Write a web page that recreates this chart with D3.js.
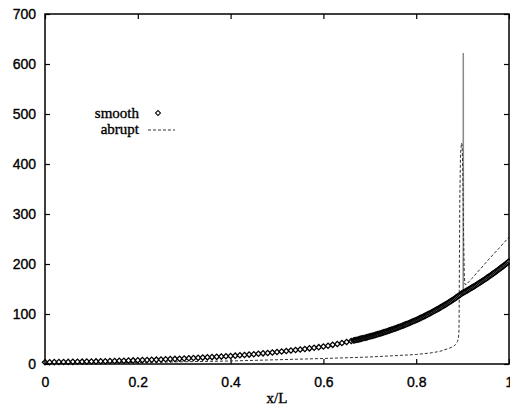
<!DOCTYPE html>
<html>
<head>
<meta charset="utf-8">
<script src="https://cdn.jsdelivr.net/npm/d3@7"></script>
<style>
    body { margin: 0; background: white; }
    svg { display: block; font-family: "Liberation Serif", "DejaVu Serif", serif; }
    text { fill: black; stroke: black; stroke-width: 0.35px; }
    .tick text { font-size: 14px; }
    .tick line { stroke: black; stroke-width: 1.2; }
</style>
</head>
<body>
<svg width="510" height="407"></svg>
<script>
const margin = { top: 14, right: 1, bottom: 43, left: 45 };
const svg = d3.select("svg");
const width = +svg.attr("width") - margin.left - margin.right;
const height = +svg.attr("height") - margin.top - margin.bottom;

// Tick labels
const xTicks = [0, 0.2, 0.4, 0.6, 0.8, 1];
const xTickLabels = ["0", "0.2", "0.4", "0.6", "0.8", "1"];
const yTicks = [0, 100, 200, 300, 400, 500, 600, 700];

// smooth series (diamond markers), coarse part
const smoothX = [
    0, 0.01, 0.02, 0.03, 0.04, 0.05, 0.06, 0.07, 0.08, 0.09,
    0.10, 0.11, 0.12, 0.13, 0.14, 0.15, 0.16, 0.17, 0.18, 0.19,
    0.20, 0.21, 0.22, 0.23, 0.24, 0.25, 0.26, 0.27, 0.28, 0.29,
    0.30, 0.31, 0.32, 0.33, 0.34, 0.35, 0.36, 0.37, 0.38, 0.39,
    0.40, 0.41, 0.42, 0.43, 0.44, 0.45, 0.46, 0.47, 0.48, 0.49,
    0.50, 0.51, 0.52, 0.53, 0.54, 0.55, 0.56, 0.57, 0.58, 0.59,
    0.60, 0.61, 0.62, 0.63, 0.64, 0.65, 0.66
];
const smoothY = [
    3.5, 3.6, 3.8, 3.9, 4.0, 4.2, 4.3, 4.5, 4.7, 4.8,
    5.0, 5.2, 5.4, 5.6, 5.9, 6.1, 6.4, 6.6, 6.9, 7.2,
    7.5, 7.8, 8.1, 8.4, 8.7, 9.1, 9.4, 9.8, 10.2, 10.6,
    11.0, 11.4, 11.9, 12.3, 12.8, 13.3, 13.8, 14.3, 14.8, 15.4,
    16.0, 16.7, 17.4, 18.1, 18.8, 19.6, 20.4, 21.3, 22.1, 23.0,
    24.0, 24.9, 25.9, 26.9, 27.9, 29.0, 30.1, 31.3, 32.5, 33.7,
    35.0, 36.6, 38.3, 40.1, 41.9, 43.9, 45.9
];

// smooth series, dense part (x/L >= 0.665)
const smoothDenseX = [
    0.665, 0.6675, 0.67, 0.6725, 0.675, 0.6775, 0.68, 0.6825, 0.685, 0.6875,
    0.69, 0.6925, 0.695, 0.6975, 0.70, 0.7025, 0.705, 0.7075, 0.71, 0.7125,
    0.715, 0.7175, 0.72, 0.7225, 0.725, 0.7275, 0.73, 0.7325, 0.735, 0.7375,
    0.74, 0.7425, 0.745, 0.7475, 0.75, 0.7525, 0.755, 0.7575, 0.76, 0.7625,
    0.765, 0.7675, 0.77, 0.7725, 0.775, 0.7775, 0.78, 0.7825, 0.785, 0.7875,
    0.79, 0.7925, 0.795, 0.7975, 0.80, 0.8025, 0.805, 0.8075, 0.81, 0.8125,
    0.815, 0.8175, 0.82, 0.8225, 0.825, 0.8275, 0.83, 0.8325, 0.835, 0.8375,
    0.84, 0.8425, 0.845, 0.8475, 0.85, 0.8525, 0.855, 0.8575, 0.86, 0.8625,
    0.865, 0.8675, 0.87, 0.8725, 0.875, 0.8775, 0.88, 0.8825, 0.885, 0.8875,
    0.89, 0.8925, 0.895, 0.8975, 0.90, 0.9025, 0.905, 0.9075, 0.91, 0.9125,
    0.915, 0.9175, 0.92, 0.9225, 0.925, 0.9275, 0.93, 0.9325, 0.935, 0.9375,
    0.94, 0.9425, 0.945, 0.9475, 0.95, 0.9525, 0.955, 0.9575, 0.96, 0.9625,
    0.965, 0.9675, 0.97, 0.9725, 0.975, 0.9775, 0.98, 0.9825, 0.985, 0.9875,
    0.99, 0.9925, 0.995, 0.9975, 1.0
];
const smoothDenseY = [
    46.9, 47.5, 48.0, 48.6, 49.1, 49.7, 50.2, 50.8, 51.4, 52.0,
    52.6, 53.2, 53.8, 54.4, 55.0, 55.7, 56.3, 57.0, 57.6, 58.3,
    59.0, 59.7, 60.4, 61.1, 61.8, 62.6, 63.3, 64.1, 64.8, 65.6,
    66.4, 67.2, 68.0, 68.8, 69.6, 70.4, 71.2, 72.1, 72.9, 73.8,
    74.6, 75.5, 76.4, 77.3, 78.2, 79.2, 80.1, 81.1, 82.0, 83.0,
    84.0, 85.0, 86.0, 87.0, 88.0, 89.1, 90.1, 91.2, 92.3, 93.4,
    94.5, 95.7, 96.8, 98.0, 99.2, 100.4, 101.6, 102.9, 104.1, 105.4,
    106.6, 107.9, 109.2, 110.5, 111.8, 113.2, 114.5, 115.9, 117.3, 118.7,
    120.1, 121.6, 123.0, 124.5, 126.0, 127.5, 129.0, 130.6, 132.2, 133.8,
    135.4, 137.1, 138.7, 140.4, 142.0, 143.3, 144.6, 146.0, 147.3, 148.7,
    150.0, 151.4, 152.8, 154.2, 155.6, 157.1, 158.5, 160.0, 161.5, 163.0,
    164.5, 166.0, 167.5, 169.1, 170.6, 172.2, 173.8, 175.4, 177.0, 178.7,
    180.3, 182.0, 183.6, 185.3, 187.0, 188.8, 190.5, 192.3, 194.0, 195.8,
    197.6, 199.5, 201.3, 203.2, 205.0
];

// abrupt series (dashed line)
const abruptX = [
    0, 0.1, 0.2, 0.3, 0.4, 0.5, 0.6, 0.7, 0.75, 0.8,
    0.83, 0.85, 0.86, 0.87, 0.88, 0.885, 0.889, 0.891, 0.892, 0.8925,
    0.893, 0.894, 0.8955, 0.8975, 0.899, 0.9005, 0.902, 0.9035, 0.905, 0.907,
    0.92, 0.94, 0.96, 0.98, 1.0
];
const abruptY = [
    2, 2.5, 3, 4.5, 6, 8.5, 11, 14, 16.5, 19,
    22, 25, 28, 31, 35, 39, 45, 52, 62, 90,
    180, 330, 420, 442, 438, 380, 260, 180, 160, 158,
    171, 192, 213, 233, 254
];

// unlabelled solid line (spike)
const solidX = [0.9013, 0.9015, 0.9017];
const solidY = [142, 622, 146];

const smooth = smoothX.concat(smoothDenseX).map(function (x, i) {
    return { x: x, y: smoothY.concat(smoothDenseY)[i] };
});
const abrupt = abruptX.map(function (x, i) { return { x: x, y: abruptY[i] }; });
const solid = solidX.map(function (x, i) { return { x: x, y: solidY[i] }; });

var scaleX = d3.scaleLinear().domain([0, 1]).range([0, width]);
var scaleY = d3.scaleLinear().domain([0, 700]).range([height, 0]);

var g = svg.append("g")
    .attr("transform", "translate(" + margin.left + "," + margin.top + ")");

// axes, ticks pointing inwards on all four sides
g.append("g")
    .attr("transform", "translate(0," + height + ")")
    .call(d3.axisBottom(scaleX).tickValues(xTicks)
        .tickFormat(function (d, i) { return xTickLabels[i]; })
        .tickSizeInner(-5).tickSizeOuter(0).tickPadding(13))
    .call(function (a) { a.select(".domain").remove(); });

g.append("g")
    .call(d3.axisTop(scaleX).tickValues(xTicks).tickFormat("")
        .tickSizeInner(-5).tickSizeOuter(0))
    .call(function (a) { a.select(".domain").remove(); });

g.append("g")
    .call(d3.axisLeft(scaleY).tickValues(yTicks)
        .tickSizeInner(-5).tickSizeOuter(0).tickPadding(9))
    .call(function (a) { a.select(".domain").remove(); });

g.append("g")
    .attr("transform", "translate(" + width + ",0)")
    .call(d3.axisRight(scaleY).tickValues(yTicks).tickFormat("")
        .tickSizeInner(-5).tickSizeOuter(0))
    .call(function (a) { a.select(".domain").remove(); });

var line = d3.line()
    .x(function (d) { return scaleX(d.x); })
    .y(function (d) { return scaleY(d.y); });

g.append("path")
    .datum(solid)
    .attr("d", line)
    .attr("fill", "none")
    .attr("stroke", "#8a8a8a")
    .attr("stroke-width", 1.5);

g.append("path")
    .datum(abrupt)
    .attr("d", line)
    .attr("fill", "none")
    .attr("stroke", "#333")
    .attr("stroke-width", 1)
    .attr("stroke-dasharray", "3,2");

// diamond markers
var diamond = d3.symbol().type(d3.symbolSquare).size(14);

g.selectAll(".marker")
    .data(smooth)
    .enter().append("path")
    .attr("class", "marker")
    .attr("d", diamond)
    .attr("transform", function (d) {
        return "translate(" + scaleX(d.x) + "," + scaleY(d.y) + ") rotate(45)";
    })
    .attr("fill", "white")
    .attr("stroke", "black")
    .attr("stroke-width", 1.3);

// frame
g.append("rect")
    .attr("width", width)
    .attr("height", height)
    .attr("fill", "none")
    .attr("stroke", "black")
    .attr("stroke-width", 1.5);

// legend
var legend = svg.append("g").attr("font-size", "15px");
legend.append("text")
    .attr("x", 139).attr("y", 118)
    .attr("text-anchor", "end")
    .text("smooth");
legend.append("path")
    .attr("d", d3.symbol().type(d3.symbolSquare).size(12.5))
    .attr("transform", "translate(158,113) rotate(45)")
    .attr("fill", "white")
    .attr("stroke", "black");
legend.append("text")
    .attr("x", 139).attr("y", 134)
    .attr("text-anchor", "end")
    .text("abrupt");
legend.append("line")
    .attr("x1", 148).attr("x2", 175)
    .attr("y1", 130).attr("y2", 130)
    .attr("stroke", "#333")
    .attr("stroke-dasharray", "3,2");

// axis title
svg.append("text")
    .attr("x", margin.left + width / 2)
    .attr("y", 403)
    .attr("text-anchor", "middle")
    .attr("font-size", "15px")
    .text("x/L");
</script>
</body>
</html>
